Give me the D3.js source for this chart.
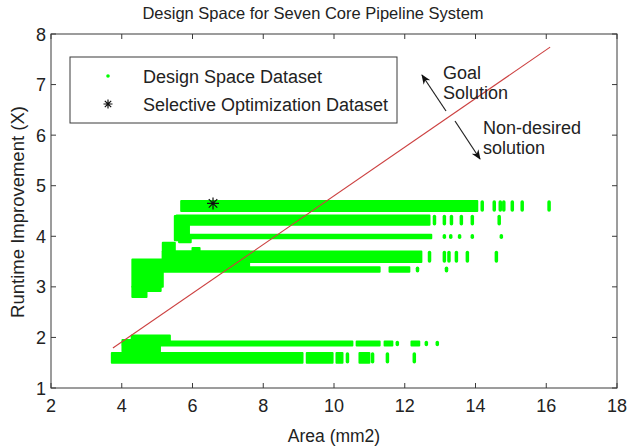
<!DOCTYPE html>
<html>
<head>
<meta charset="utf-8">
<script src="https://cdn.jsdelivr.net/npm/d3@7"></script>
<style>
  html, body { margin: 0; padding: 0; background: #fff; }
  svg { display: block; font-family: "Liberation Sans", Arial, Helvetica, sans-serif; }
</style>
</head>
<body>
<div id="chart"></div>
<script>
// axis ticks
const xTicks = [2, 4, 6, 8, 10, 12, 14, 16, 18];
const yTicks = [1, 2, 3, 4, 5, 6, 7, 8];

// design space bands: runtime range [low, high] of each horizontal band
const bandY = [
  [4.50, 4.70],
  [4.23, 4.41],
  [3.96, 4.03],
  [3.49, 3.70],
  [3.30, 3.39],
  [1.84, 1.92],
  [1.50, 1.69]
];

// dense runs of points along each band [areaStart, areaEnd]
const bandRuns = [
  [[5.68, 14.05]],
  [[5.55, 12.70]],
  [[5.55, 12.75]],
  [[5.16, 12.47]],
  [[4.80, 11.29], [11.57, 12.13]],
  [[4.03, 10.52], [10.64, 11.29], [11.43, 11.65], [12.19, 12.41]],
  [[3.72, 9.11], [9.23, 9.96], [10.07, 10.24], [10.72, 11.00]]
];

// isolated point columns past the end of each band (area)
const bandDots = [
  [14.19, 14.53, 14.70, 14.80, 15.04, 15.32, 16.08],
  [12.84, 13.12, 13.32, 13.60, 13.91, 14.67],
  [13.12, 13.30, 13.55, 13.91, 14.73],
  [12.70, 13.12, 13.25, 13.46, 13.77, 14.59],
  [12.36, 13.18],
  [11.79, 12.61, 12.92],
  [10.38, 11.09, 11.51, 12.27]
];

// clumps of points at the small-area end [areaStart, areaEnd, low, high]
const clumps = [
  [5.50, 5.90, 3.92, 4.40],
  [5.62, 5.95, 3.88, 3.98],
  [5.16, 7.60, 3.33, 3.70],
  [5.16, 5.50, 3.70, 3.87],
  [6.00, 6.20, 3.70, 3.77],
  [4.30, 5.16, 3.00, 3.54],
  [4.30, 4.70, 2.80, 3.00],
  [4.70, 5.10, 2.92, 3.00],
  [4.02, 5.08, 1.72, 1.95],
  [4.28, 5.36, 1.92, 2.04]
];

// selective optimization point
const optPoints = [[6.58, 4.65]];

// goal line endpoints
const goalLine = [[3.75, 1.79], [16.11, 7.74]];

const W = 628, H = 447;
const margin = { top: 34, right: 11, bottom: 59, left: 51 };
const green = '#00ff00';
const axisColor = '#3a3a3a';
const textColor = '#222';

const svg = d3.select('#chart').append('svg')
  .attr('width', W).attr('height', H);

const x = d3.scaleLinear().domain([2, 18]).range([margin.left, W - margin.right]);
const y = d3.scaleLinear().domain([1, 8]).range([H - margin.bottom, margin.top]);

const plot = svg.append('g');

// clumps
plot.selectAll('.clump')
  .data(clumps)
  .enter().append('rect')
  .attr('class', 'clump')
  .attr('x', d => x(d[0]))
  .attr('y', d => y(d[3]))
  .attr('width', d => x(d[1]) - x(d[0]))
  .attr('height', d => y(d[2]) - y(d[3]))
  .attr('fill', green)
  .attr('stroke', green)
  .attr('stroke-width', 2)
  .attr('stroke-linejoin', 'round');

// dense runs
const runs = [];
bandRuns.forEach((list, i) => list.forEach(r => runs.push({ x0: r[0], x1: r[1], lo: bandY[i][0], hi: bandY[i][1] })));
plot.selectAll('.run')
  .data(runs)
  .enter().append('rect')
  .attr('class', 'run')
  .attr('x', d => x(d.x0))
  .attr('y', d => y(d.hi))
  .attr('width', d => x(d.x1) - x(d.x0))
  .attr('height', d => y(d.lo) - y(d.hi))
  .attr('fill', green)
  .attr('stroke', green)
  .attr('stroke-width', 2)
  .attr('stroke-linejoin', 'round');

// isolated dot columns
const dots = [];
bandDots.forEach((list, i) => list.forEach(v => dots.push({ x: v, lo: bandY[i][0], hi: bandY[i][1] })));
plot.selectAll('.dotcol')
  .data(dots)
  .enter().append('line')
  .attr('class', 'dotcol')
  .attr('x1', d => x(d.x)).attr('x2', d => x(d.x))
  .attr('y1', d => y(d.hi) + 1).attr('y2', d => y(d.lo) - 1)
  .attr('stroke', green)
  .attr('stroke-width', 3.5)
  .attr('stroke-linecap', 'round');

// goal line
plot.append('line')
  .attr('x1', x(goalLine[0][0])).attr('y1', y(goalLine[0][1]))
  .attr('x2', x(goalLine[1][0])).attr('y2', y(goalLine[1][1]))
  .attr('stroke', '#cc4040')
  .attr('stroke-width', 1.1);

// asterisk marker
function asterisk(g, cx, cy, r) {
  const path = d3.path();
  for (let k = 0; k < 4; k++) {
    const a = k * Math.PI / 4;
    path.moveTo(cx - r * Math.cos(a), cy - r * Math.sin(a));
    path.lineTo(cx + r * Math.cos(a), cy + r * Math.sin(a));
  }
  g.append('path').attr('d', path.toString())
    .attr('stroke', '#111').attr('stroke-width', 1.2).attr('fill', 'none');
}
optPoints.forEach(p => asterisk(plot, x(p[0]), y(p[1]), 6));

// frame
const x0 = x(2), x1 = x(18), y0 = y(1), y1 = y(8);
svg.append('rect')
  .attr('x', x0).attr('y', y1)
  .attr('width', x1 - x0).attr('height', y0 - y1)
  .attr('fill', 'none').attr('stroke', axisColor).attr('stroke-width', 1);

// inward ticks on all four sides
const tickLen = 5;
const ticks = svg.append('g').attr('stroke', axisColor).attr('stroke-width', 1);
xTicks.forEach(t => {
  ticks.append('line').attr('x1', x(t)).attr('x2', x(t)).attr('y1', y0).attr('y2', y0 - tickLen);
  ticks.append('line').attr('x1', x(t)).attr('x2', x(t)).attr('y1', y1).attr('y2', y1 + tickLen);
});
yTicks.forEach(t => {
  ticks.append('line').attr('x1', x0).attr('x2', x0 + tickLen).attr('y1', y(t)).attr('y2', y(t));
  ticks.append('line').attr('x1', x1).attr('x2', x1 - tickLen).attr('y1', y(t)).attr('y2', y(t));
});

// tick labels
svg.append('g').selectAll('text')
  .data(xTicks).enter().append('text')
  .attr('x', d => x(d)).attr('y', y0 + 24)
  .attr('text-anchor', 'middle')
  .attr('font-size', 18).attr('fill', textColor)
  .text(d => d);

svg.append('g').selectAll('text')
  .data(yTicks).enter().append('text')
  .attr('x', x0 - 5).attr('y', d => y(d) + 6.5)
  .attr('text-anchor', 'end')
  .attr('font-size', 18).attr('fill', textColor)
  .text(d => d);

// title and axis labels
svg.append('text')
  .attr('x', 313).attr('y', 19)
  .attr('text-anchor', 'middle')
  .attr('font-size', 16.5).attr('fill', textColor)
  .text('Design Space for Seven Core Pipeline System');

svg.append('text')
  .attr('x', (x0 + x1) / 2).attr('y', 442)
  .attr('text-anchor', 'middle')
  .attr('font-size', 17.5).attr('fill', textColor)
  .text('Area (mm2)');

svg.append('text')
  .attr('transform', `translate(24, ${(y0 + y1) / 2 + 1}) rotate(-90)`)
  .attr('text-anchor', 'middle')
  .attr('font-size', 18.5).attr('fill', textColor)
  .text('Runtime Improvement (X)');

// legend
const legend = svg.append('g');
legend.append('rect')
  .attr('x', 70).attr('y', 57).attr('width', 327).attr('height', 66)
  .attr('fill', '#fff').attr('stroke', axisColor).attr('stroke-width', 1);
legend.append('circle').attr('cx', 108).attr('cy', 76).attr('r', 1.8).attr('fill', green);
legend.append('text').attr('x', 143).attr('y', 83)
  .attr('font-size', 18).attr('fill', textColor).text('Design Space Dataset');
asterisk(legend, 108, 104, 4.5);
legend.append('text').attr('x', 143).attr('y', 111)
  .attr('font-size', 18).attr('fill', textColor).text('Selective Optimization Dataset');

// annotations
const defs = svg.append('defs');
defs.append('marker')
  .attr('id', 'head').attr('viewBox', '0 0 10 10')
  .attr('refX', 9).attr('refY', 5)
  .attr('markerWidth', 10).attr('markerHeight', 10)
  .attr('markerUnits', 'userSpaceOnUse')
  .attr('orient', 'auto')
  .append('path').attr('d', 'M0,1 L10,5 L0,9 L3,5 Z').attr('fill', '#111');

svg.append('line')
  .attr('x1', 446).attr('y1', 111).attr('x2', 422).attr('y2', 75)
  .attr('stroke', '#222').attr('stroke-width', 1.2).attr('marker-end', 'url(#head)');
svg.append('line')
  .attr('x1', 455).attr('y1', 121).attr('x2', 480).attr('y2', 159)
  .attr('stroke', '#222').attr('stroke-width', 1.2).attr('marker-end', 'url(#head)');

const ann = svg.append('g').attr('font-size', 18).attr('fill', textColor);
ann.append('text').attr('x', 443).attr('y', 79).text('Goal');
ann.append('text').attr('x', 443).attr('y', 99).text('Solution');
ann.append('text').attr('x', 483).attr('y', 134).text('Non-desired');
ann.append('text').attr('x', 483).attr('y', 154).text('solution');
</script>
</body>
</html>
